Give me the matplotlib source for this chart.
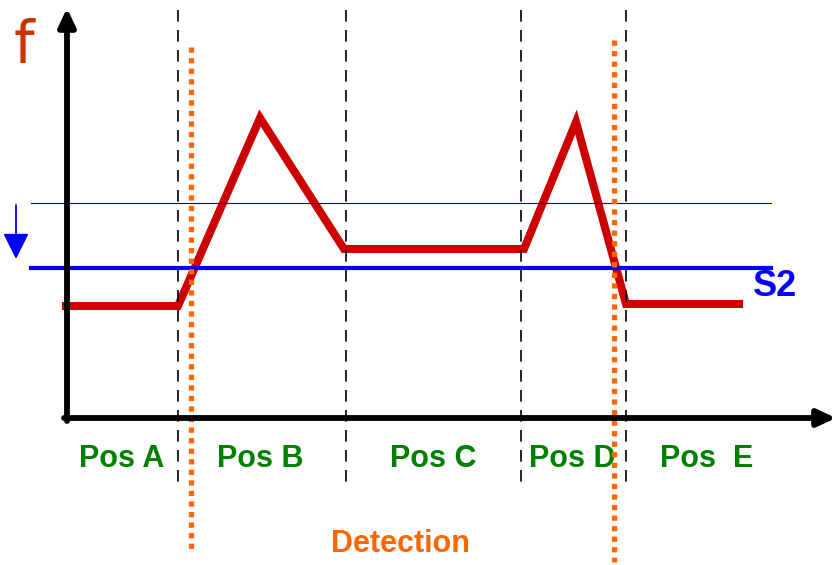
import matplotlib
matplotlib.use('Agg')
from matplotlib import pyplot as plt

# Signal f along the positions (diagram units = pixels, y downwards)
signal_x = [66, 178, 260, 344, 524, 576, 626, 739]
signal_y = [306, 306, 118, 249, 249, 122, 304, 304]

# Zone boundaries (black dashed) and detection instants (orange dotted)
zone_bounds = [178, 346, 521, 626]
detect_x = [191, 614]
detect_top = [47, 40]
detect_bottom = [553, 562]

# Thresholds: old (thin) and new S2 (thick)
thr_old = 203
thr_s2 = 268

pos_labels = ['Pos A', 'Pos B', 'Pos C', 'Pos D', 'Pos  E']
pos_centers = [122, 260, 433, 572, 707]

plt.rcParams['font.family'] = ['Liberation Sans', 'DejaVu Sans']

fig = plt.figure(figsize=(8.38, 5.65), dpi=100)
ax = fig.add_axes([0, 0, 1, 1])
ax.set_xlim(0, 838)
ax.set_ylim(565, 0)
ax.axis('off')

arrow_style = '-|>,head_length=0.9,head_width=0.42'

# axes with arrows
ax.annotate('', xy=(67, 8), xytext=(67, 421), annotation_clip=False, zorder=5,
            arrowprops=dict(arrowstyle=arrow_style, color='black', lw=4.2,
                            mutation_scale=12, shrinkA=0, shrinkB=0))
ax.annotate('', xy=(836, 418), xytext=(64, 418), annotation_clip=False, zorder=5,
            arrowprops=dict(arrowstyle=arrow_style, color='black', lw=4.2,
                            mutation_scale=12, shrinkA=0, shrinkB=0))

# signal
ax.plot(signal_x, signal_y, color='#cc0000', lw=5.8, solid_joinstyle='miter', zorder=2)

# zone boundaries
for xb in zone_bounds:
    ax.plot([xb, xb], [10, 488], color='black', lw=1.2, linestyle=(0, (7, 5)), zorder=3)

# thresholds
ax.plot([31, 771], [thr_old, thr_old], color='#0000cc', lw=0.8, zorder=3)
ax.plot([31, 771], [thr_s2, thr_s2], color='#0000ff', lw=3.0, zorder=3)
ax.annotate('', xy=(16, 259), xytext=(16, 205),
            arrowprops=dict(arrowstyle='-|>,head_length=0.8,head_width=0.4',
                            color='#0000ff', lw=1.3, mutation_scale=20, shrinkA=0, shrinkB=0))
ax.text(775, 287, 'S2', color='#0000ff', fontsize=26, fontweight='bold',
        ha='center', va='center')

# detection lines
for xd, yt, yb in zip(detect_x, detect_top, detect_bottom):
    ax.plot([xd, xd], [yt, yb], color='#ff6600', lw=3.8, linestyle=(0, (1, 1)), zorder=4)

# labels
ax.text(24, 46, 'f', color='#cc3300', fontsize=42, ha='center', va='center',
        family=['DejaVu Sans'])
for lab, xc in zip(pos_labels, pos_centers):
    ax.text(xc, 467, lab, color='#008000', fontsize=22, fontweight='bold',
            ha='center', va='baseline')
ax.text(400, 552, 'Detection', color='#ff6600', fontsize=22, fontweight='bold',
        ha='center', va='baseline')

fig.savefig('out.png', dpi=100)
